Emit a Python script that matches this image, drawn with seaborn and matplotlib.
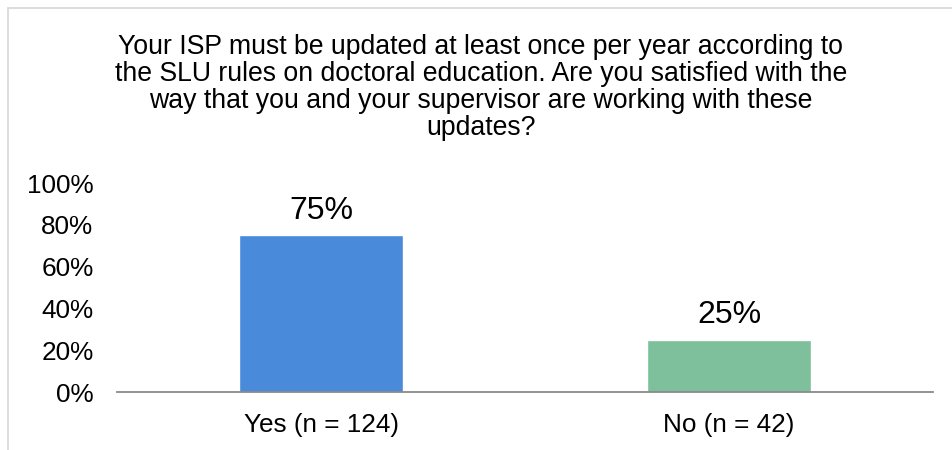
import matplotlib
matplotlib.use("Agg")
import matplotlib.pyplot as plt
import seaborn as sns
import pandas as pd
from matplotlib.patches import Rectangle

categories = ["Yes (n = 124)", "No (n = 42)"]
values = [0.75, 0.25]
labels = ["75%", "25%"]
colors = ["#4A8ADA", "#7DC09B"]
yticks = [0, 0.2, 0.4, 0.6, 0.8, 1.0]
ytick_labels = ["0%", "20%", "40%", "60%", "80%", "100%"]
title = ("Your ISP must be updated at least once per year according to\n"
         "the SLU rules on doctoral education. Are you satisfied with the\n"
         "way that you and your supervisor are working with these\n"
         "updates?")

sns.set_style("white")
plt.rcParams['font.family'] = ['Liberation Sans', 'DejaVu Sans']

df = pd.DataFrame({"cat": categories, "val": values})

fig = plt.figure(figsize=(9.52, 4.5), dpi=100)
ax = fig.add_axes([117/952, 58/450, (933-117)/952, (392-183)/450])
sns.barplot(data=df, x="cat", y="val", hue="cat", palette=colors, width=0.4,
            legend=False, ax=ax, saturation=1)

ax.set_ylim(0, 1)
ax.set_xlim(-0.5, 1.5)
ax.set_yticks(yticks)
ax.set_yticklabels(ytick_labels)
ax.tick_params(axis='both', length=0, labelsize=18.8, colors='#000000')
ax.tick_params(axis='y', pad=17)
ax.tick_params(axis='x', pad=15)
ax.set_xlabel("")
ax.set_ylabel("")
for s in ["left", "right", "top"]:
    ax.spines[s].set_visible(False)
ax.spines["bottom"].set_color("#898989")
ax.spines["bottom"].set_linewidth(1.3)

for i, (v, lab) in enumerate(zip(values, labels)):
    ax.annotate(lab, (i, v), xytext=(0, 7), textcoords="offset points",
                ha="center", va="bottom", fontsize=23, color="#000000")

fig.text(481/952, 1 - 34/450, title, ha="center", va="top", fontsize=19.2,
         linespacing=1.05, color="#000000")

fig.patches.append(Rectangle((8/952, -0.1), 1.2, 1 - 8/450 + 0.1,
                             transform=fig.transFigure, fill=False,
                             edgecolor="#D9D9D9", linewidth=1.3))

fig.savefig("out.png", dpi=100)
